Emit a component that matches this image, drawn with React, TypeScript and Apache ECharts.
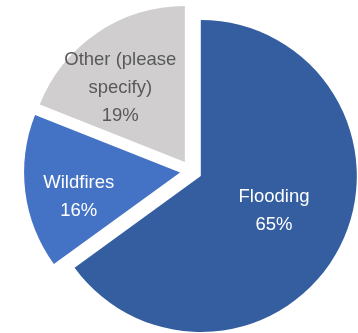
import React, { useEffect, useRef } from "react";
import * as echarts from "echarts";

const categories = ["Flooding", "Wildfires", "Other (please\nspecify)"];
const values = [65, 16, 19];
const colors = ["#345E9F", "#4472C4", "#D0CECE"];
const labelColors = ["#FFFFFF", "#FFFFFF", "#595959"];
// extra label shift (dx, dy) from the default inside position
const labelShift: [number, number][] = [
  [1, -3],
  [-21, 13],
  [-19, -8],
];

export default function App() {
  const ref = useRef<HTMLDivElement>(null);
  useEffect(() => {
    if (!ref.current) return;
    const chart = echarts.init(ref.current, undefined, { renderer: "svg" });
    const data = categories.map((name, i) => ({
      name,
      value: values[i],
      selected: true,
      itemStyle: { color: colors[i] },
      label: { color: labelColors[i] },
      select: {
        itemStyle: { color: colors[i], borderWidth: 0 },
        label: { color: labelColors[i] },
      },
      emphasis: { disabled: true },
    }));
    chart.setOption({
      animation: false,
      series: [
        {
          type: "pie",
          center: [191, 171],
          radius: 156,
          startAngle: 90,
          clockwise: true,
          selectedMode: "multiple",
          selectedOffset: 11,
          silent: true,
          label: {
            show: true,
            position: "inside",
            formatter: (p: any) => `${p.name}\n${p.value}%`,
            fontFamily: "'Liberation Sans', Arial, sans-serif",
            fontSize: 18.5,
            lineHeight: 28,
            align: "center",
          },
          labelLine: { show: false },
          labelLayout: (p: any) => ({
            dx: labelShift[p.dataIndex][0],
            dy: labelShift[p.dataIndex][1],
          }),
          data,
        },
      ],
    });
    return () => chart.dispose();
  }, []);
  return (
    <div
      ref={ref}
      style={{ position: "fixed", left: 0, top: 0, width: 358, height: 333 }}
    />
  );
}
